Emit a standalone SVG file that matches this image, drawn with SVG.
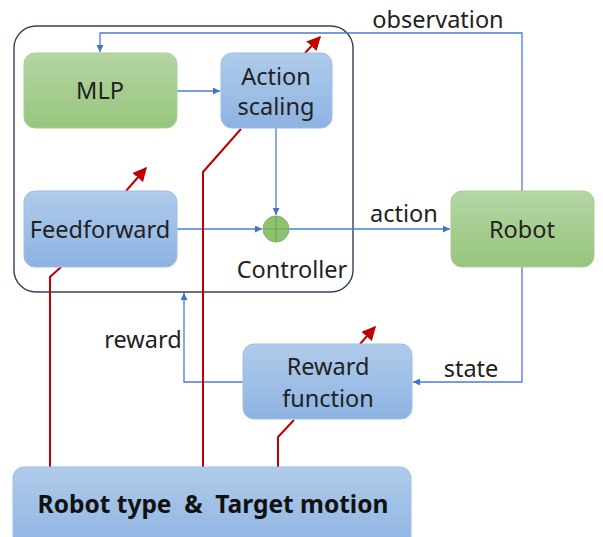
<svg xmlns="http://www.w3.org/2000/svg" width="603" height="537" viewBox="0 0 603 537">
<defs>
<linearGradient id="gb" x1="0" y1="0" x2="0" y2="1"><stop offset="0" stop-color="#b0cbea"/><stop offset="1" stop-color="#8db3e2"/></linearGradient>
<linearGradient id="gg" x1="0" y1="0" x2="0" y2="1"><stop offset="0" stop-color="#b4d6a4"/><stop offset="1" stop-color="#97c57d"/></linearGradient>
<marker id="ab" viewBox="0 0 10 10" refX="10" refY="5" markerWidth="7" markerHeight="7" markerUnits="userSpaceOnUse" orient="auto"><path d="M0,0 L10,5 L0,10 z" fill="#4472c4"/></marker>
<marker id="ar" viewBox="0 0 10 10" refX="9" refY="5" markerWidth="14" markerHeight="14" markerUnits="userSpaceOnUse" orient="auto"><path d="M0,0 L10,5 L0,10 z" fill="#c00000"/></marker>
</defs>
<style>
text{font-family:"Noto Sans","Open Sans","DejaVu Sans",sans-serif;fill:#222;font-size:23.5px}
.t{text-anchor:middle}
.bx{fill:url(#gb);stroke:#9dbde6;stroke-width:1}
.gx{fill:url(#gg);stroke:#a9d093;stroke-width:1}
.bl{fill:none;stroke:#4a7cd4;stroke-width:1.3}
.rd{fill:none;stroke:#c00000;stroke-width:2}
.big{font-weight:bold;font-size:24.5px;white-space:pre;fill:#111}
</style>
<g id="controller"><rect x="14" y="26" width="339" height="266" rx="22" fill="none" stroke="#33405f" stroke-width="1.4"/><text x="292" y="278" class="t">Controller</text></g>
<g id="connectors">
<path class="bl" d="M522,191 V33 H100 V52" marker-end="url(#ab)"/>
<path class="bl" d="M176,91 H220" marker-end="url(#ab)"/>
<path class="bl" d="M276,128 V215" marker-end="url(#ab)"/>
<path class="bl" d="M176,229 H262" marker-end="url(#ab)"/>
<path class="bl" d="M289,229 H450" marker-end="url(#ab)"/>
<path class="bl" d="M522,267 V382 H413" marker-end="url(#ab)"/>
<path class="bl" d="M243,382 H184 V293" marker-end="url(#ab)"/>
<path class="rd" d="M50,467 V277 L61,267"/>
<path class="rd" d="M126,191 L146,168" marker-end="url(#ar)"/>
<path class="rd" d="M203,467 V172 L241,129"/>
<path class="rd" d="M305,53 L320,37" marker-end="url(#ar)"/>
<path class="rd" d="M278,467 V437 L294,420"/>
<path class="rd" d="M360,344 L375,327" marker-end="url(#ar)"/>
</g>
<g id="mlp"><rect class="gx" x="24" y="53" width="153" height="75" rx="11"/><text x="100" y="99" class="t">MLP</text></g>
<g id="action-scaling"><rect class="bx" x="221" y="53" width="111" height="75" rx="11"/><text x="276" y="85" class="t">Action</text><text x="276" y="115" class="t">scaling</text></g>
<g id="feedforward"><rect class="bx" x="24" y="191" width="153" height="76" rx="11"/><text x="100" y="238" class="t">Feedforward</text></g>
<g id="sum"><circle cx="276" cy="229" r="13" fill="#8ec270" stroke="#7fb862" stroke-width="1"/><path d="M263,229 H289 M276,216 V242" stroke="#6fa752" stroke-width="1.2"/></g>
<g id="robot"><rect class="gx" x="451" y="191" width="143" height="76" rx="11"/><text x="522" y="238" class="t">Robot</text></g>
<g id="reward-function"><rect class="bx" x="243" y="344" width="169" height="75" rx="11"/><text x="328" y="375" class="t">Reward</text><text x="328" y="407" class="t">function</text></g>
<g id="robot-type"><rect class="bx" x="13" y="467" width="398" height="85" rx="11"/><text x="213" y="513" class="t big">Robot type  &amp;  Target motion</text></g>
<g id="labels">
<text x="438" y="28" class="t">observation</text>
<text x="404" y="222" class="t">action</text>
<text x="143" y="348" class="t">reward</text>
<text x="471" y="377" class="t">state</text>
</g>
</svg>
